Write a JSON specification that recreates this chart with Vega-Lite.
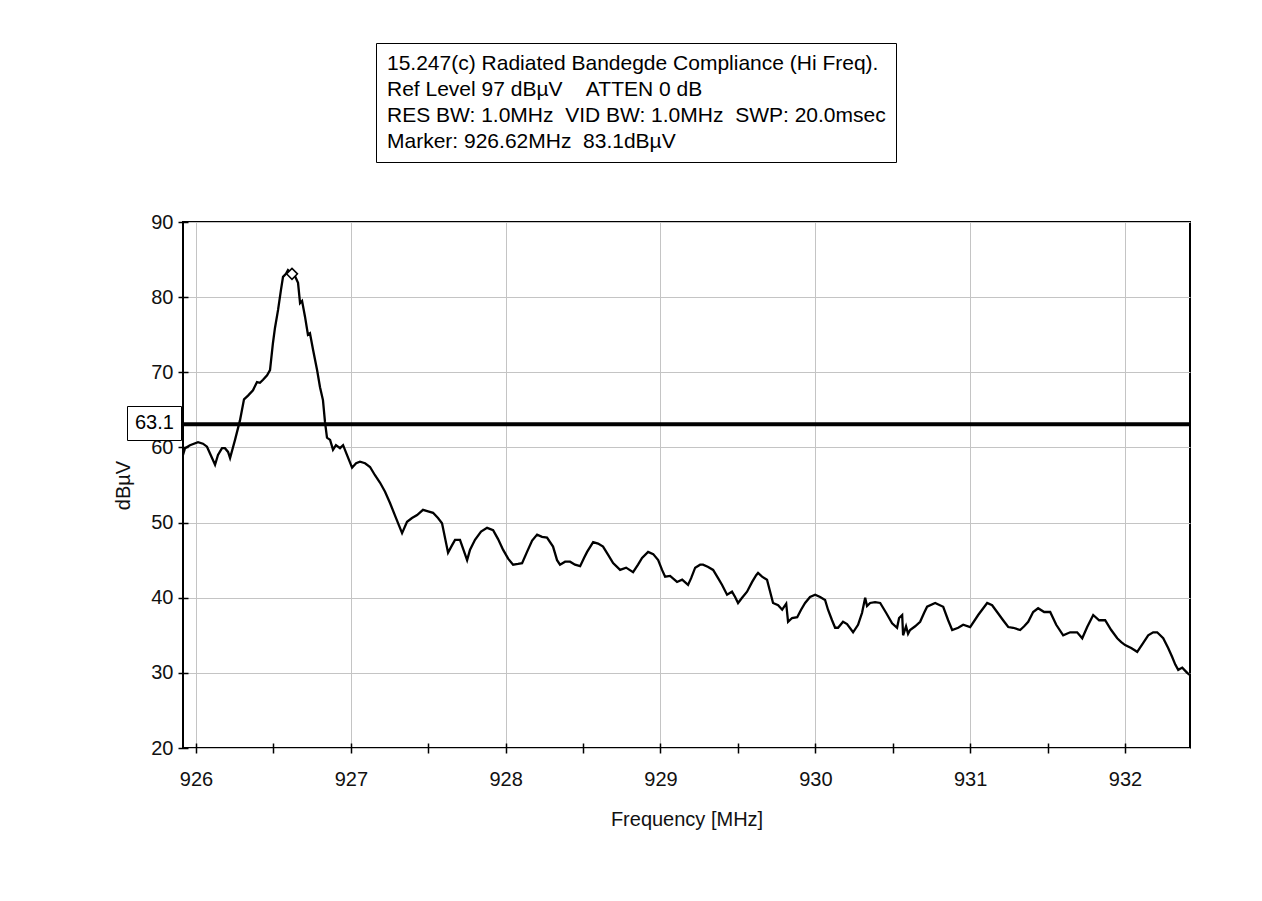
{
  "$schema": "https://vega.github.io/schema/vega-lite/v6.json",
  "width": 1007,
  "height": 526,
  "autosize": {"type": "none"},
  "padding": {"left": 183, "top": 222, "right": 72, "bottom": 153},
  "background": "white",
  "config": {
    "view": {"stroke": "black", "strokeWidth": 2},
    "font": "Liberation Sans"
  },
  "datasets": {
    "trace": [
      {"freq":925.916,"level":59.0},{"freq":925.929,"level":59.9},{"freq":925.961,"level":60.3},{"freq":926.013,"level":60.7},{"freq":926.045,"level":60.5},{"freq":926.071,"level":60.1},{"freq":926.097,"level":58.9},{"freq":926.123,"level":57.7},{"freq":926.142,"level":59.0},{"freq":926.168,"level":59.9},{"freq":926.187,"level":59.9},{"freq":926.207,"level":59.4},{"freq":926.220,"level":58.6},{"freq":926.252,"level":61.0},{"freq":926.284,"level":63.6},{"freq":926.310,"level":66.4},{"freq":926.336,"level":66.9},{"freq":926.368,"level":67.6},{"freq":926.394,"level":68.7},{"freq":926.413,"level":68.6},{"freq":926.433,"level":69.0},{"freq":926.459,"level":69.6},{"freq":926.478,"level":70.3},{"freq":926.497,"level":73.9},{"freq":926.510,"level":75.9},{"freq":926.530,"level":78.3},{"freq":926.549,"level":81.0},{"freq":926.562,"level":82.7},{"freq":926.581,"level":83.1},{"freq":926.594,"level":83.6},{"freq":926.620,"level":83.1},{"freq":926.639,"level":82.8},{"freq":926.659,"level":81.9},{"freq":926.672,"level":79.2},{"freq":926.685,"level":79.5},{"freq":926.704,"level":77.4},{"freq":926.723,"level":75.0},{"freq":926.736,"level":75.2},{"freq":926.756,"level":73.0},{"freq":926.782,"level":70.3},{"freq":926.801,"level":68.0},{"freq":926.820,"level":66.3},{"freq":926.833,"level":63.4},{"freq":926.846,"level":61.3},{"freq":926.866,"level":61.0},{"freq":926.885,"level":59.7},{"freq":926.904,"level":60.3},{"freq":926.930,"level":59.9},{"freq":926.950,"level":60.3},{"freq":926.975,"level":59.0},{"freq":927.008,"level":57.3},{"freq":927.034,"level":57.9},{"freq":927.059,"level":58.1},{"freq":927.092,"level":57.9},{"freq":927.124,"level":57.4},{"freq":927.156,"level":56.3},{"freq":927.189,"level":55.3},{"freq":927.221,"level":54.1},{"freq":927.253,"level":52.6},{"freq":927.292,"level":50.6},{"freq":927.331,"level":48.6},{"freq":927.363,"level":50.1},{"freq":927.395,"level":50.6},{"freq":927.428,"level":51.0},{"freq":927.466,"level":51.7},{"freq":927.499,"level":51.5},{"freq":927.531,"level":51.3},{"freq":927.563,"level":50.6},{"freq":927.589,"level":49.9},{"freq":927.628,"level":46.0},{"freq":927.654,"level":47.0},{"freq":927.673,"level":47.7},{"freq":927.705,"level":47.7},{"freq":927.751,"level":45.0},{"freq":927.770,"level":46.4},{"freq":927.802,"level":47.7},{"freq":927.841,"level":48.8},{"freq":927.880,"level":49.3},{"freq":927.919,"level":49.0},{"freq":927.951,"level":47.8},{"freq":927.983,"level":46.4},{"freq":928.016,"level":45.2},{"freq":928.048,"level":44.4},{"freq":928.080,"level":44.5},{"freq":928.106,"level":44.6},{"freq":928.138,"level":46.1},{"freq":928.171,"level":47.6},{"freq":928.203,"level":48.4},{"freq":928.235,"level":48.1},{"freq":928.267,"level":48.0},{"freq":928.306,"level":46.8},{"freq":928.332,"level":45.0},{"freq":928.351,"level":44.4},{"freq":928.384,"level":44.8},{"freq":928.416,"level":44.8},{"freq":928.448,"level":44.4},{"freq":928.481,"level":44.2},{"freq":928.506,"level":45.3},{"freq":928.526,"level":46.1},{"freq":928.565,"level":47.4},{"freq":928.597,"level":47.2},{"freq":928.629,"level":46.8},{"freq":928.662,"level":45.7},{"freq":928.694,"level":44.6},{"freq":928.739,"level":43.7},{"freq":928.778,"level":44.0},{"freq":928.823,"level":43.4},{"freq":928.855,"level":44.4},{"freq":928.881,"level":45.3},{"freq":928.920,"level":46.1},{"freq":928.953,"level":45.8},{"freq":928.985,"level":45.0},{"freq":929.010,"level":43.7},{"freq":929.030,"level":42.8},{"freq":929.062,"level":42.9},{"freq":929.107,"level":42.1},{"freq":929.140,"level":42.4},{"freq":929.178,"level":41.7},{"freq":929.198,"level":42.6},{"freq":929.224,"level":44.0},{"freq":929.256,"level":44.4},{"freq":929.275,"level":44.4},{"freq":929.308,"level":44.1},{"freq":929.340,"level":43.7},{"freq":929.372,"level":42.6},{"freq":929.398,"level":41.7},{"freq":929.430,"level":40.4},{"freq":929.462,"level":40.8},{"freq":929.482,"level":40.1},{"freq":929.501,"level":39.3},{"freq":929.527,"level":40.0},{"freq":929.559,"level":40.8},{"freq":929.592,"level":42.1},{"freq":929.618,"level":43.0},{"freq":929.630,"level":43.3},{"freq":929.656,"level":42.8},{"freq":929.688,"level":42.4},{"freq":929.727,"level":39.3},{"freq":929.760,"level":39.0},{"freq":929.786,"level":38.4},{"freq":929.812,"level":39.2},{"freq":929.824,"level":36.8},{"freq":929.850,"level":37.3},{"freq":929.883,"level":37.4},{"freq":929.908,"level":38.4},{"freq":929.934,"level":39.3},{"freq":929.966,"level":40.1},{"freq":929.999,"level":40.4},{"freq":930.031,"level":40.1},{"freq":930.063,"level":39.7},{"freq":930.082,"level":38.4},{"freq":930.108,"level":37.0},{"freq":930.128,"level":36.0},{"freq":930.147,"level":36.0},{"freq":930.179,"level":36.8},{"freq":930.205,"level":36.5},{"freq":930.244,"level":35.4},{"freq":930.276,"level":36.4},{"freq":930.302,"level":38.0},{"freq":930.322,"level":40.0},{"freq":930.334,"level":38.9},{"freq":930.354,"level":39.3},{"freq":930.386,"level":39.4},{"freq":930.419,"level":39.3},{"freq":930.457,"level":38.0},{"freq":930.496,"level":36.6},{"freq":930.528,"level":36.0},{"freq":930.541,"level":37.3},{"freq":930.561,"level":37.7},{"freq":930.567,"level":35.0},{"freq":930.586,"level":36.2},{"freq":930.599,"level":35.2},{"freq":930.612,"level":35.7},{"freq":930.645,"level":36.2},{"freq":930.677,"level":36.8},{"freq":930.703,"level":38.0},{"freq":930.722,"level":38.8},{"freq":930.774,"level":39.3},{"freq":930.826,"level":38.8},{"freq":930.858,"level":37.0},{"freq":930.884,"level":35.7},{"freq":930.923,"level":36.0},{"freq":930.955,"level":36.4},{"freq":931.000,"level":36.1},{"freq":931.052,"level":37.7},{"freq":931.110,"level":39.3},{"freq":931.142,"level":39.0},{"freq":931.174,"level":38.1},{"freq":931.213,"level":37.0},{"freq":931.246,"level":36.1},{"freq":931.278,"level":36.0},{"freq":931.323,"level":35.7},{"freq":931.349,"level":36.2},{"freq":931.375,"level":36.8},{"freq":931.407,"level":38.1},{"freq":931.439,"level":38.6},{"freq":931.478,"level":38.1},{"freq":931.517,"level":38.1},{"freq":931.556,"level":36.4},{"freq":931.601,"level":35.0},{"freq":931.646,"level":35.4},{"freq":931.691,"level":35.4},{"freq":931.724,"level":34.6},{"freq":931.756,"level":36.1},{"freq":931.795,"level":37.7},{"freq":931.833,"level":37.0},{"freq":931.872,"level":37.0},{"freq":931.911,"level":35.7},{"freq":931.950,"level":34.6},{"freq":931.976,"level":34.1},{"freq":932.001,"level":33.7},{"freq":932.040,"level":33.3},{"freq":932.079,"level":32.8},{"freq":932.118,"level":34.0},{"freq":932.150,"level":35.0},{"freq":932.182,"level":35.4},{"freq":932.208,"level":35.4},{"freq":932.247,"level":34.6},{"freq":932.279,"level":33.3},{"freq":932.305,"level":32.1},{"freq":932.325,"level":31.1},{"freq":932.344,"level":30.4},{"freq":932.370,"level":30.7},{"freq":932.402,"level":30.0},{"freq":932.420,"level":29.7}
    ],
    "limit": [{"level": 63.1, "label": "63.1"}],
    "marker": [{"freq": 926.62, "level": 83.1}],
    "info": [
      {"line": "15.247(c) Radiated Bandegde Compliance (Hi Freq)."},
      {"line": "Ref Level 97 dBµV\u00a0\u00a0\u00a0\u00a0ATTEN 0 dB"},
      {"line": "RES BW: 1.0MHz\u00a0\u00a0VID BW: 1.0MHz\u00a0\u00a0SWP: 20.0msec"},
      {"line": "Marker: 926.62MHz\u00a0\u00a083.1dBµV"}
    ]
  },
  "layer": [
    {
      "data": {"name": "trace"},
      "mark": {"type": "line", "color": "black", "strokeWidth": 2.3},
      "encoding": {
        "x": {
          "field": "freq", "type": "quantitative",
          "scale": {"domain": [925.916, 932.42], "nice": false, "zero": false},
          "axis": {
            "values": [926, 926.5, 927, 927.5, 928, 928.5, 929, 929.5, 930, 930.5, 931, 931.5, 932],
            "format": ".0f",
            "labelExpr": "datum.value % 1 === 0 ? datum.label : ''",
            "labelFlush": false,
            "grid": true, "gridColor": "#c4c4c4", "gridWidth": 1,
            "gridOpacity": {"condition": {"test": "datum.value % 1 !== 0", "value": 0}, "value": 1},
            "domain": false, "offset": -5, "tickSize": 10, "tickColor": "black", "tickWidth": 1.5,
            "labelFont": "Liberation Sans", "labelFontSize": 20, "labelColor": "#111", "labelPadding": 16,
            "title": "Frequency [MHz]", "titleFont": "Liberation Sans", "titleFontSize": 20,
            "titleFontWeight": "normal", "titleColor": "#111", "titlePadding": 20
          }
        },
        "y": {
          "field": "level", "type": "quantitative",
          "scale": {"domain": [20, 90], "nice": false, "zero": false},
          "axis": {
            "values": [20, 25, 30, 35, 40, 45, 50, 55, 60, 65, 70, 75, 80, 85, 90],
            "labelExpr": "datum.value % 10 === 0 ? datum.label : ''",
            "grid": true, "gridColor": "#c4c4c4", "gridWidth": 1,
            "gridOpacity": {"condition": {"test": "datum.value % 10 !== 0", "value": 0}, "value": 1},
            "domain": false, "offset": -5, "tickSize": 10, "tickColor": "black", "tickWidth": 1.5,
            "labelFont": "Liberation Sans", "labelFontSize": 20, "labelColor": "#111", "labelPadding": 5,
            "title": "dBµV", "titleFont": "Liberation Sans", "titleFontSize": 20,
            "titleFontWeight": "normal", "titleColor": "#111", "titlePadding": 17
          }
        }
      }
    },
    {
      "data": {"name": "limit"},
      "mark": {"type": "rule", "strokeWidth": 4},
      "encoding": {
        "y": {"field": "level", "type": "quantitative"},
        "color": {
          "field": "label", "type": "nominal",
          "scale": {"range": ["black"]},
          "legend": {
            "orient": "none", "legendX": -56, "legendY": 184, "title": null,
            "strokeColor": "black", "padding": 7,
            "labelFont": "Liberation Sans", "labelFontSize": 20, "labelColor": "black",
            "labelOffset": -19, "labelLimit": 1000,
            "symbolSize": 0, "symbolOpacity": 0, "symbolStrokeWidth": 0
          }
        }
      }
    },
    {
      "data": {"name": "marker"},
      "mark": {"type": "point", "shape": "diamond", "size": 120, "filled": true, "fill": "white", "stroke": "black", "strokeWidth": 1.5, "opacity": 1},
      "encoding": {
        "x": {"field": "freq", "type": "quantitative"},
        "y": {"field": "level", "type": "quantitative"}
      }
    },
    {
      "data": {"name": "info"},
      "mark": {"type": "point", "opacity": 0},
      "encoding": {
        "shape": {
          "field": "line", "type": "nominal", "sort": null,
          "legend": {
            "orient": "none", "legendX": 193, "legendY": -179, "title": null,
            "strokeColor": "black", "padding": 10, "rowPadding": 4,
            "labelFont": "Liberation Sans", "labelFontSize": 21, "labelColor": "black",
            "labelOffset": -20, "labelLimit": 1000,
            "symbolSize": 0, "symbolOpacity": 0, "symbolStrokeWidth": 0
          }
        }
      }
    }
  ]
}
